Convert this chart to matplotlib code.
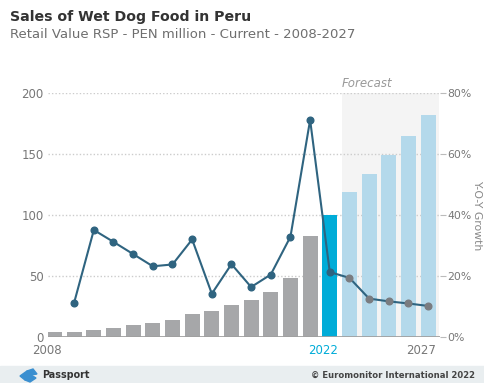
import matplotlib
matplotlib.use("Agg")
import matplotlib.pyplot as plt
from matplotlib.patches import Rectangle, Polygon
import numpy as np

years = list(range(2008, 2028))
sales = [3.8, 4.4, 6.0, 7.7, 9.6, 11.8, 14.2, 18.9, 21.6, 26.0,
         30.7, 36.7, 48.5, 82.7, 100.0, 119.2, 133.4, 149.0, 165.0, 182.2]
growth = [None, 11.3, 35.1, 31.2, 27.2, 23.2, 23.8, 32.0, 14.2, 23.9,
          16.4, 20.5, 32.9, 71.2, 21.3, 19.4, 12.6, 11.7, 11.0, 10.2]
current_year = 2022
year_labels = ["2008", "2022", "2027"]
left_ticks = [0, 50, 100, 150, 200]
right_ticks = [0, 20, 40, 60, 80]

GREY_BAR = "#a6a7a9"
CUR_BAR = "#00acd8"
FC_BAR = "#b4d9eb"
LINE = "#2f6480"
FC_MARK = "#7a7c80"
TICK_C = "#777777"

fig = plt.figure(figsize=(4.85, 3.83), dpi=100)
ax = fig.add_axes([0.099, 0.120, 0.808, 0.637])
ax2 = ax.twinx()

x = np.arange(len(years))
cur = years.index(current_year)

# forecast shading
ax.axvspan(cur + 0.62, len(years) - 0.45, color="#f4f4f4", zorder=0, lw=0)

colors = [GREY_BAR if y < current_year else (CUR_BAR if y == current_year else FC_BAR) for y in years]
ax.bar(x, sales, width=0.76, color=colors, zorder=2)

ax.set_ylim(0, 200)
ax.set_xlim(-0.33, 19.6)
ax.set_yticks(left_ticks)
ax.set_yticklabels([str(v) for v in left_ticks])
for v in left_ticks[1:]:
    ax.axhline(v, color="#cccccc", lw=1, ls=(0, (1, 1.5)), zorder=1)
ax.axhline(0, color="#a0a0a0", lw=2, zorder=3)

for a in (ax, ax2):
    for s in a.spines.values():
        s.set_visible(False)
ax.tick_params(axis="y", length=0, labelsize=8.5, labelcolor=TICK_C, pad=3)
ax.set_xticks([])

# growth line
gx = [i for i, g in enumerate(growth) if g is not None]
gy = [g for g in growth if g is not None]
ax2.plot(gx, gy, color=LINE, lw=1.5, zorder=4)
hist = [(i, g) for i, g in zip(gx, gy) if years[i] <= current_year]
fc = [(i, g) for i, g in zip(gx, gy) if years[i] > current_year]
ax2.plot([p[0] for p in hist], [p[1] for p in hist], "o", color=LINE, ms=4.8, zorder=5)
ax2.plot([p[0] for p in fc], [p[1] for p in fc], "o", color=FC_MARK, ms=4.8, zorder=5)
ax2.set_ylim(0, 80)
ax2.set_yticks(right_ticks)
ax2.set_yticklabels([f"{v}%" for v in right_ticks])
ax2.tick_params(axis="y", length=4, width=0.8, color="#bbbbbb", labelsize=7.8,
                labelcolor=TICK_C, pad=1.5)
ax2.set_ylabel("Y-O-Y Growth", rotation=270, color="#888888", fontsize=7.8, labelpad=4)
ax2.yaxis.set_label_coords(1.107, 0.5)
ax2.set_xlim(-0.33, 19.6)

# year labels
for lab in year_labels:
    i = years.index(int(lab))
    col = CUR_BAR if int(lab) == current_year else TICK_C
    ax.text(i - 0.36, -6, lab, ha="center", va="top", fontsize=8.5, color=col,
            transform=ax.transData, clip_on=False)

ax.text(cur + 0.62, 1.04, "Forecast", transform=ax.get_xaxis_transform(), ha="left",
        va="center", fontsize=8.5, style="italic", color="#999999")

# titles
fig.text(10 / 485, 1 - 17 / 383, "Sales of Wet Dog Food in Peru", fontsize=10.2,
         fontweight="bold", color="#333333", va="center", ha="left")
fig.text(10 / 485, 1 - 35 / 383, "Retail Value RSP - PEN million - Current - 2008-2027",
         fontsize=9.5, color="#6e6e6e", va="center", ha="left")

# footer band
fig.patches.append(Rectangle((0, 0), 1, 17 / 383, transform=fig.transFigure,
                             color="#e9eef0", zorder=0))
logo = [
    [(20, 376), (27, 371), (31, 375), (25, 380)],
    [(27, 371), (33, 369), (37, 374), (31, 375)],
    [(25, 380), (31, 375), (36, 378), (30, 382)],
]
for poly in logo:
    pts = [(px / 485, 1 - py / 383) for px, py in poly]
    fig.patches.append(Polygon(pts, closed=True, transform=fig.transFigure,
                               color="#3a8fd0", zorder=1))
fig.text(42 / 485, 1 - 375 / 383, "Passport", fontsize=6.9, fontweight="bold",
         color="#333333", va="center", ha="left")
fig.text(475 / 485, 1 - 375 / 383, "© Euromonitor International 2022", fontsize=6.1,
         fontweight="bold", color="#444444", va="center", ha="right")

fig.savefig("out.png", dpi=100)
